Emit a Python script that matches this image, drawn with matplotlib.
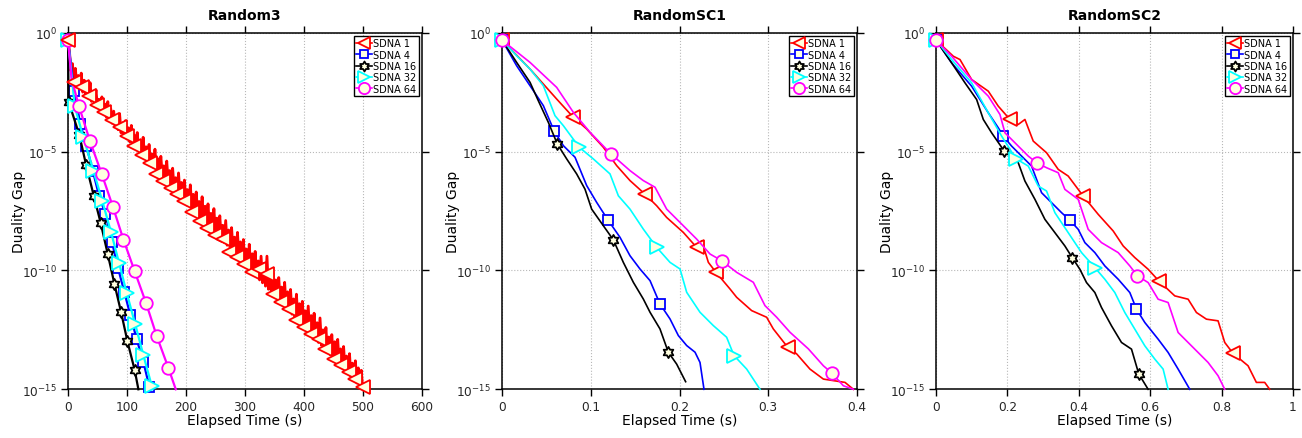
import numpy as np
import matplotlib
matplotlib.use('Agg')
import matplotlib.pyplot as plt
from matplotlib.path import Path
from matplotlib.lines import Line2D

plt.rcParams['font.family'] = ['DejaVu Sans']
plt.rcParams['mathtext.default'] = 'regular'

# ---------------- data (exponents are log10 of duality gap) ----------------
titles = ['Random3', 'RandomSC1', 'RandomSC2']
labels = ['SDNA 1', 'SDNA 4', 'SDNA 16', 'SDNA 32', 'SDNA 64']
xlims = [(0, 600), (0, 0.4), (0, 1.0)]
xticks = [[0, 100, 200, 300, 400, 500, 600],
          [0, 0.1, 0.2, 0.3, 0.4],
          [0, 0.2, 0.4, 0.6, 0.8, 1.0]]
yticks = [1e0, 1e-5, 1e-10, 1e-15]

# ---- Random3 ----
# SDNA 1: noisy line; valleys sampled at t = 0,5,...,500 and spikes at t = 2.5,7.5,...,497.5
r3_s1_low_t = list(range(0, 505, 5))
r3_s1_low_e = [-0.30, -1.60, -2.10, -2.23, -2.36, -2.50, -2.63, -2.76, -2.89, -3.02, -3.15, -3.29, -3.42,
               -3.55, -3.68, -3.81, -3.94, -4.08, -4.21, -4.34, -4.47, -4.60, -4.73, -4.87, -5.00, -5.13,
               -5.26, -5.39, -5.52, -5.66, -5.79, -5.92, -6.05, -6.18, -6.31, -6.45, -6.58, -6.71, -6.84,
               -6.97, -7.10, -7.24, -7.37, -7.50, -7.63, -7.76, -7.89, -8.03, -8.16, -8.29, -8.42, -8.55,
               -8.68, -8.82, -8.94, -9.08, -9.21, -9.34, -9.47, -9.61, -9.74, -9.87, -10.00, -10.13,
               -10.26, -10.40, -10.52, -10.66, -10.79, -10.92, -11.05, -11.18, -11.31, -11.45, -11.58,
               -11.71, -11.84, -11.97, -12.10, -12.24, -12.37, -12.50, -12.63, -12.76, -12.89, -13.03,
               -13.15, -13.29, -13.42, -13.55, -13.68, -13.81, -13.94, -14.08, -14.21, -14.34, -14.47,
               -14.60, -14.73, -14.87, -15.00]
r3_s1_high_t = [2.5 + 5 * i for i in range(100)]
r3_s1_high_e = [-0.8, -1.3, -1.5, -1.8, -1.7, -2.0, -2.2, -2.1, -2.5, -2.4, -2.8, -2.7, -3.0, -2.9, -3.2,
                -3.3, -3.5, -3.4, -3.8, -3.7, -4.0, -3.9, -4.3, -4.2, -4.6, -4.4, -4.8, -4.7, -5.1, -4.9,
                -5.3, -5.2, -5.6, -5.4, -5.8, -5.7, -6.1, -5.9, -6.3, -6.2, -6.6, -6.4, -6.8, -6.7, -7.1,
                -6.9, -7.3, -7.2, -7.6, -7.4, -7.8, -7.7, -8.1, -7.9, -8.3, -8.2, -8.6, -8.4, -8.8, -8.7,
                -9.1, -8.9, -9.3, -9.2, -9.6, -9.4, -9.7, -9.4, -10.0, -10.1, -10.4, -10.3, -10.7, -10.5,
                -10.9, -10.8, -11.2, -11.0, -11.4, -11.3, -11.7, -11.5, -11.9, -11.8, -12.2, -12.0, -12.5,
                -12.4, -12.8, -12.7, -13.0, -12.9, -13.3, -13.2, -13.6, -13.5, -13.9, -13.8, -14.1, -14.2]
r3_s1_mk_t = [0, 10.2, 23.2, 36.2, 48.7, 61.7, 74.7, 88.3, 99.6, 112.6, 125.1, 139.2, 148.8, 161.9, 174.9,
              184.5, 197.5, 211.1, 224.1, 236.6, 249.6, 262.6, 273.9, 286.4, 299.4, 311.8, 324.8, 337.3,
              348.6, 361.6, 374.6, 387.1, 399.5, 412.0, 425.0, 436.3, 450.5, 462.9, 475.9, 487.3, 499.7]
r3_s1_mk_e = [-0.31, -2.09, -2.30, -2.65, -3.03, -3.35, -3.66, -3.98, -4.33, -4.75, -5.14, -5.48, -5.94,
              -6.22, -6.53, -6.78, -7.06, -7.55, -7.90, -8.22, -8.53, -8.67, -9.23, -9.44, -9.72, -10.07,
              -9.93, -10.14, -10.98, -11.33, -11.61, -12.10, -12.38, -12.66, -12.87, -13.29, -13.71,
              -13.96, -14.27, -14.55, -14.90]

r3_s4_t = [0, 10.2, 20.9, 31.1, 42.0, 52.6, 63.4, 74.7, 84.9, 95.5, 105.8, 116.6, 127.9, 138.1, 139.0]
r3_s4_e = [-0.31, -2.44, -3.84, -4.75, -5.80, -6.85, -7.62, -8.81, -9.90, -10.90, -11.89, -12.90, -13.85,
           -14.90, -15.0]
r3_s16_t = [0, 1.0, 19.2, 30.6, 43.6, 55.5, 67.3, 78.7, 90.0, 100.7, 113.2, 119.4]
r3_s16_e = [-0.31, -2.90, -4.30, -5.55, -6.85, -8.01, -9.30, -10.56, -11.75, -12.97, -14.20, -15.0]
r3_s32_t = [0, 11.5, 26.0, 43.0, 58.3, 73.0, 86.6, 99.6, 113.8, 127.9, 142.0, 143.0]
r3_s32_e = [-0.31, -3.10, -4.40, -5.80, -7.09, -8.39, -9.68, -10.95, -12.24, -13.57, -14.85, -15.0]
r3_s64_t = [0, 6.0, 18.7, 37.4, 57.2, 76.4, 94.0, 113.2, 132.4, 150.5, 170.3, 182.8]
r3_s64_e = [-0.31, -1.95, -3.10, -4.57, -5.94, -7.34, -8.70, -10.04, -11.37, -12.76, -14.10, -15.0]

# ---- RandomSC1 ----
sc1_s1_t = [0, 0.0316, 0.0616, 0.0804, 0.0954, 0.1142, 0.1292, 0.1442, 0.1611, 0.1743, 0.1855, 0.2043,
            0.2193, 0.2250, 0.2325, 0.2411, 0.2569, 0.2644, 0.2813, 0.2982, 0.3057, 0.3219, 0.3320,
            0.3470, 0.3621, 0.3865, 0.3959]
sc1_s1_e = [-0.31, -1.53, -2.79, -3.56, -4.05, -4.82, -5.59, -6.22, -6.79, -7.28, -7.77, -8.40, -9.03,
            -8.75, -9.66, -10.08, -10.78, -11.13, -11.69, -11.97, -12.46, -13.23, -13.51, -14.15, -14.57,
            -14.71, -15.0]
sc1_s4_t = [0, 0.0165, 0.0316, 0.0466, 0.0586, 0.0691, 0.0823, 0.0954, 0.1067, 0.1191, 0.1330, 0.1442,
            0.1555, 0.1668, 0.1780, 0.1893, 0.1987, 0.2081, 0.2175, 0.2231, 0.2276]
sc1_s4_e = [-0.31, -1.39, -2.23, -3.07, -4.12, -4.75, -5.24, -6.43, -7.14, -7.86, -8.61, -9.38, -9.94,
            -10.43, -11.41, -12.04, -12.74, -13.16, -13.44, -13.87, -15.0]
sc1_s16_t = [0, 0.0165, 0.0316, 0.0409, 0.0522, 0.0623, 0.0729, 0.0841, 0.0935, 0.1010, 0.1142, 0.1254,
             0.1367, 0.1480, 0.1592, 0.1668, 0.1780, 0.1874, 0.1968, 0.2069]
sc1_s16_e = [-0.31, -1.25, -2.09, -2.86, -3.77, -4.68, -5.31, -5.94, -6.58, -7.42, -8.12, -8.71, -9.66,
             -10.50, -11.20, -11.76, -12.46, -13.44, -13.94, -14.68]
sc1_s32_t = [0, 0.0165, 0.0316, 0.0466, 0.0597, 0.0691, 0.0871, 0.1029, 0.1217, 0.1311, 0.1442, 0.1592,
             0.1743, 0.1893, 0.2006, 0.2081, 0.2231, 0.2381, 0.2531, 0.2614, 0.2757, 0.2907]
sc1_s32_e = [-0.31, -0.97, -1.53, -2.23, -3.49, -3.91, -4.82, -5.31, -5.94, -6.86, -7.42, -8.26, -9.03,
             -9.66, -9.94, -10.92, -11.76, -12.32, -12.81, -13.58, -14.15, -15.0]
sc1_s64_t = [0, 0.0316, 0.0616, 0.0804, 0.0992, 0.1228, 0.1442, 0.1592, 0.1724, 0.1855, 0.2043, 0.2193,
             0.2344, 0.2475, 0.2644, 0.2832, 0.2963, 0.3095, 0.3245, 0.3452, 0.3621, 0.3715, 0.3846,
             0.3959]
sc1_s64_e = [-0.31, -1.25, -2.30, -3.35, -4.19, -5.10, -5.80, -6.22, -6.50, -7.42, -8.12, -8.68, -9.31,
             -9.59, -10.08, -10.50, -11.48, -11.97, -12.60, -13.30, -14.01, -14.31, -14.85, -15.0]

# ---- RandomSC2 ----
sc2_s1_t = [0, 0.0485, 0.0672, 0.0998, 0.1465, 0.1744, 0.2071, 0.2304, 0.2491, 0.2724, 0.3097, 0.3424,
            0.3703, 0.4123, 0.4543, 0.4963, 0.5243, 0.5569, 0.5942, 0.6241, 0.6688, 0.7062, 0.7295,
            0.7575, 0.7901, 0.8088, 0.8321, 0.8741, 0.8974, 0.9207, 0.9347]
sc2_s1_e = [-0.31, -0.99, -1.13, -1.97, -2.46, -3.09, -3.65, -3.86, -3.65, -4.56, -5.05, -5.75, -6.03,
            -6.87, -7.64, -8.34, -8.97, -9.46, -9.95, -10.44, -11.07, -11.21, -11.77, -12.05, -12.12,
            -13.03, -13.49, -14.01, -14.71, -14.71, -15.0]
sc2_s4_t = [0, 0.0438, 0.0998, 0.1465, 0.1744, 0.1884, 0.2118, 0.2397, 0.2677, 0.2957, 0.3237, 0.3517,
            0.3750, 0.3983, 0.4170, 0.4450, 0.4729, 0.5103, 0.5429, 0.5616, 0.5849, 0.6222, 0.6502,
            0.6782, 0.7108]
sc2_s4_e = [-0.31, -1.27, -2.25, -3.37, -4.00, -4.35, -4.77, -5.19, -5.61, -6.73, -7.15, -7.57, -7.89,
            -8.27, -8.83, -9.25, -9.81, -10.37, -10.93, -11.63, -12.19, -12.89, -13.45, -14.15, -15.0]
sc2_s16_t = [0, 0.0438, 0.0812, 0.1138, 0.1325, 0.1558, 0.1912, 0.2118, 0.2304, 0.2491, 0.2771, 0.3050,
             0.3330, 0.3610, 0.3815, 0.4030, 0.4216, 0.4450, 0.4636, 0.4916, 0.5196, 0.5476, 0.5681,
             0.5942]
sc2_s16_e = [-0.31, -1.27, -2.11, -2.81, -3.65, -4.21, -4.98, -5.05, -5.47, -6.24, -7.01, -7.85, -8.41,
             -8.97, -9.46, -9.95, -10.51, -10.93, -11.56, -12.33, -13.03, -13.31, -14.36, -15.0]
sc2_s32_t = [0, 0.0438, 0.0998, 0.1465, 0.1838, 0.2239, 0.2584, 0.2864, 0.3097, 0.3330, 0.3703, 0.4077,
             0.4450, 0.4729, 0.5009, 0.5289, 0.5569, 0.5849, 0.6129, 0.6362, 0.6502]
sc2_s32_e = [-0.31, -1.13, -2.11, -3.37, -4.35, -5.30, -5.61, -6.45, -6.66, -7.57, -8.41, -9.25, -9.88,
             -10.37, -10.93, -11.77, -12.47, -13.17, -13.73, -14.15, -15.0]
sc2_s64_t = [0, 0.0438, 0.0998, 0.1465, 0.1791, 0.1931, 0.2211, 0.2584, 0.2817, 0.3097, 0.3424, 0.3610,
             0.3983, 0.4263, 0.4636, 0.5103, 0.5429, 0.5644, 0.5942, 0.6222, 0.6502, 0.6782, 0.7248,
             0.7621, 0.7901, 0.8088]
sc2_s64_e = [-0.31, -0.99, -1.97, -2.67, -3.44, -4.21, -4.63, -5.19, -5.47, -5.68, -5.89, -6.59, -7.01,
             -8.27, -8.83, -9.25, -9.81, -10.23, -10.51, -11.21, -11.35, -12.61, -13.31, -13.87, -14.43,
             -15.0]

# marker positions (indices into the line arrays)
marks = {
    ('Random3', 'SDNA 4'): list(range(14)),
    ('Random3', 'SDNA 16'): list(range(11)),
    ('Random3', 'SDNA 32'): list(range(11)),
    ('Random3', 'SDNA 64'): [0] + list(range(2, 11)),
    ('RandomSC1', 'SDNA 1'): [0, 3, 8, 12, 15, 21],
    ('RandomSC1', 'SDNA 4'): [0, 4, 9, 14],
    ('RandomSC1', 'SDNA 16'): [0, 5, 11, 17],
    ('RandomSC1', 'SDNA 32'): [0, 6, 12, 19],
    ('RandomSC1', 'SDNA 64'): [0, 5, 13, 21],
    ('RandomSC2', 'SDNA 1'): [0, 6, 13, 19, 26],
    ('RandomSC2', 'SDNA 4'): [0, 5, 12, 19],
    ('RandomSC2', 'SDNA 16'): [0, 6, 14, 22],
    ('RandomSC2', 'SDNA 32'): [0, 5, 12],
    ('RandomSC2', 'SDNA 64'): [0, 8, 17],
}

panels = {
    'Random3': [(r3_s4_t, r3_s4_e), (r3_s16_t, r3_s16_e), (r3_s32_t, r3_s32_e), (r3_s64_t, r3_s64_e)],
    'RandomSC1': [(sc1_s1_t, sc1_s1_e), (sc1_s4_t, sc1_s4_e), (sc1_s16_t, sc1_s16_e),
                  (sc1_s32_t, sc1_s32_e), (sc1_s64_t, sc1_s64_e)],
    'RandomSC2': [(sc2_s1_t, sc2_s1_e), (sc2_s4_t, sc2_s4_e), (sc2_s16_t, sc2_s16_e),
                  (sc2_s32_t, sc2_s32_e), (sc2_s64_t, sc2_s64_e)],
}

# ---------------- styles ----------------
ang = np.deg2rad(90 + 30 * np.arange(12))
rad = np.where(np.arange(12) % 2 == 0, 1.0, 0.5774)
hv = np.column_stack([rad * np.cos(ang), rad * np.sin(ang)])
hv = np.vstack([hv, hv[:1]])
HEX = Path(hv, [Path.MOVETO] + [Path.LINETO] * 11 + [Path.CLOSEPOLY])

colors = {'SDNA 1': '#FF0000', 'SDNA 4': '#0000FF', 'SDNA 16': '#000000',
          'SDNA 32': '#00FFFF', 'SDNA 64': '#FF00FF'}
markers = {'SDNA 1': '<', 'SDNA 4': 's', 'SDNA 16': HEX, 'SDNA 32': '>', 'SDNA 64': 'o'}
msizes = {'SDNA 1': 10, 'SDNA 4': 6.5, 'SDNA 16': 8, 'SDNA 32': 9.5, 'SDNA 64': 9}
FACE = '#FFFFE0'

fig = plt.figure(figsize=(13.02, 4.39), dpi=100)
ax_rects = [[68 / 1302, 1 - 390.3 / 439, 353.7 / 1302, 356.6 / 439],
            [502 / 1302, 1 - 390.3 / 439, 355 / 1302, 356.6 / 439],
            [936 / 1302, 1 - 390.3 / 439, 357 / 1302, 356.6 / 439]]

for k, title in enumerate(titles):
    ax = fig.add_axes(ax_rects[k])
    ax.set_yscale('log')
    lw = 1.6 if k == 0 else 1.2
    if title == 'Random3':
        tt = np.empty(len(r3_s1_low_t) + len(r3_s1_high_t))
        ee = np.empty_like(tt)
        tt[0::2] = r3_s1_low_t
        tt[1::2] = r3_s1_high_t
        ee[0::2] = r3_s1_low_e
        ee[1::2] = r3_s1_high_e
        ax.plot(tt, 10.0 ** ee, color=colors['SDNA 1'], lw=2.0, zorder=3)
        ax.plot(r3_s1_mk_t, 10.0 ** np.array(r3_s1_mk_e), ls='none', marker='<',
                ms=msizes['SDNA 1'], mfc=FACE, mec=colors['SDNA 1'], mew=1.3, zorder=4,
                clip_on=False)
        names = labels[1:]
    else:
        names = labels
    for name, (t, e) in zip(names, panels[title]):
        ax.plot(t, 10.0 ** np.array(e), color=colors[name], lw=lw,
                marker=markers[name], ms=msizes[name], mfc=FACE, mec=colors[name], mew=1.3,
                markevery=marks[(title, name)], zorder=3, clip_on=False)

    ax.set_xlim(*xlims[k])
    ax.set_ylim(1e-15, 1e0)
    ax.set_xticks(xticks[k])
    ax.xaxis.set_major_formatter(matplotlib.ticker.FormatStrFormatter('%g'))
    ax.set_yticks(yticks)
    ax.yaxis.set_minor_locator(matplotlib.ticker.NullLocator())
    ax.tick_params(direction='out', top=True, right=True, length=5, width=1,
                   labelsize=8.7, labelcolor='#262626', pad=3)
    ax.grid(True, which='major', ls=':', color='#b8b8b8', lw=0.8)
    for sp in ax.spines.values():
        sp.set_linewidth(1.1)
    ax.set_title(title, fontsize=10, fontweight='bold', pad=10)
    ax.set_xlabel('Elapsed Time (s)', fontsize=10, labelpad=0)
    ax.set_ylabel('Duality Gap', fontsize=10, labelpad=-3)

    handles = [Line2D([], [], color=colors[n], lw=1.2, marker=markers[n], ms=msizes[n] * 0.9,
                      mfc=FACE, mec=colors[n], mew=1.3) for n in labels]
    leg = ax.legend(handles, labels, loc='upper right', fontsize=7, frameon=True, fancybox=False,
                    framealpha=1, edgecolor='black', handlelength=1.6, handletextpad=0.15,
                    borderpad=0.25, labelspacing=0.15, borderaxespad=0.3)
    leg.get_frame().set_linewidth(1.0)
    leg.set_zorder(10)

fig.savefig('out.png', dpi=100)
